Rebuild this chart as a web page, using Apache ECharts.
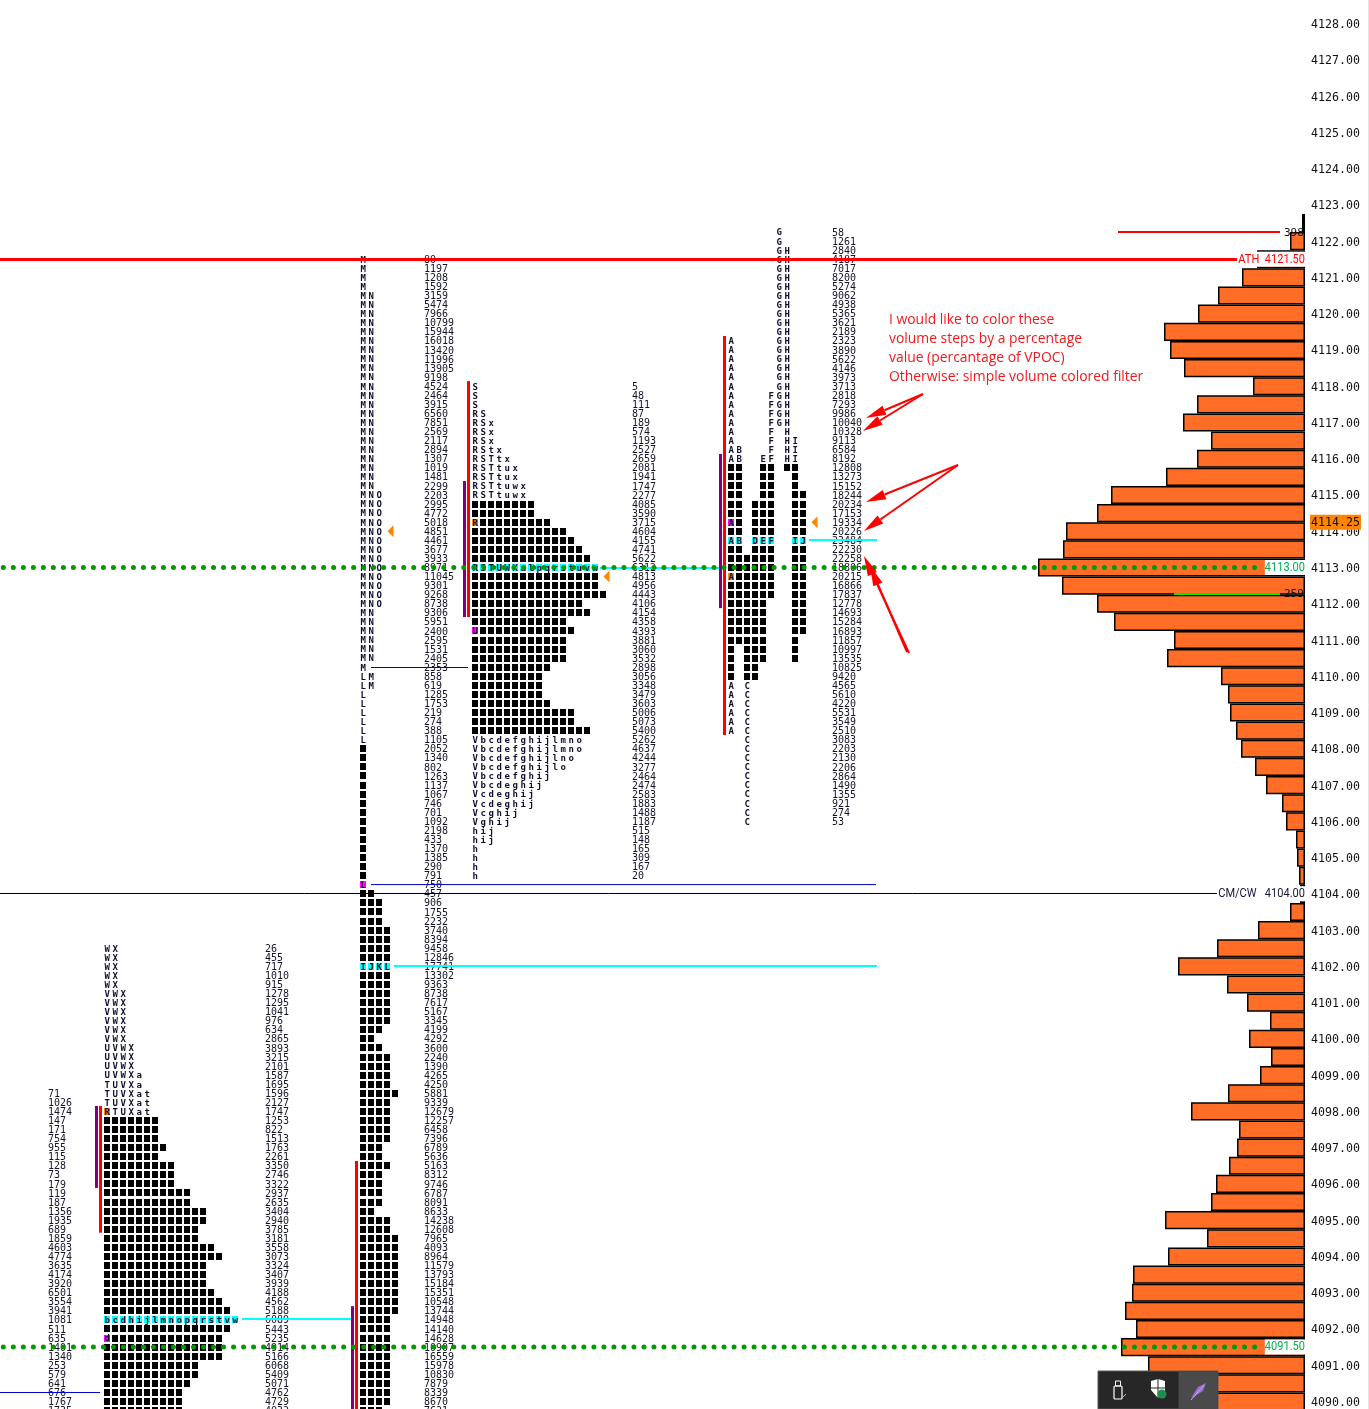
<!DOCTYPE html>
<html>
<head>
<meta charset="utf-8">
<style>html,body{margin:0;padding:0;background:#fff;overflow:hidden}#c{width:1369px;height:1409px}</style>
<script src="https://cdn.jsdelivr.net/npm/echarts@6/dist/echarts.min.js"></script>
</head>
<body>
<div id="c"></div>
<script>
// ---------- price axis ----------
const yMin = 4089, yMax = 4129, tickStep = 1;

// ---------- volume profile on the right (price level, relative bar length) ----------
const barPrices = [4122.5,4122,4121.5,4121,4120.5,4120,4119.5,4119,4118.5,4118,4117.5,4117,4116.5,4116,4115.5,4115,4114.5,4114,4113.5,4113,4112.5,4112,4111.5,4111,4110.5,4110,4109.5,4109,4108.5,4108,4107.5,4107,4106.5,4106,4105.5,4105,4104.5,4104,4103.5,4103,4102.5,4102,4101.5,4101,4100.5,4100,4099.5,4099,4098.5,4098,4097.5,4097,4096.5,4096,4095.5,4095,4094.5,4094,4093.5,4093,4092.5,4092,4091.5,4091,4090.5,4090];
const barValues = [3,15,48,63,87,107,141,135,121,52,108,122,94,108,139,194,208,239,242,267,243,208,191,131,138,84,77,75,69,64,50,39,23,19,9,8,6,5,15,47,88,127,78,58,35,56,34,45,77,114,66,68,76,89,94,140,98,137,172,173,180,169,184,157,140,150];

// ---------- TPO rows: a number is that many solid blocks, '#' is one block, letters are TPO letters ----------
const startPrice1 = 4121.5;
const tpoRows1 = ['M','M','M','M','MN','MN','MN','MN','MN','MN','MN','MN','MN','MN','MN','MN','MN','MN','MN','MN','MN','MN','MN','MN','MN','MN',
 'MNO','MNO','MNO','MNO','MNO','MNO','MNO','MNO','MNO','MNO','MNO','MNO','MNO','MN','MN','MN','MN','MN','MN','M','LM','LM','L','L','L','L','L','L',
 1,1,1,1,1,1,1,1,1,1,1,1,1,1,1,'L',2,3,3,3,4,4,4,4,'IJKL',4,4,4,4,4,4,3,2,3,4,4,4,4,5,4,4,4,4,4,3,3,4,3,3,3,3,2,4,4,5,5,5,5,5,5,5,5,5,4,4,4,4,4,4,4,4,4,4,3];
const volumes1 = [80,1197,1208,1592,3159,5474,7966,10799,15944,16018,13420,11996,13905,9198,4524,2464,3915,6560,7851,2569,2117,2894,1307,1019,1481,2299,2203,2995,4772,5018,4851,4461,3677,3933,8971,11045,9301,9268,8738,9306,5951,2400,2595,1531,2405,2353,858,619,1285,1753,219,274,388,1105,2052,1340,802,1263,1137,1067,746,701,1092,2198,433,1370,1385,290,791,750,457,906,1755,2232,3740,8394,9458,12846,17741,13302,9363,8738,7617,5167,3345,4199,4292,3600,2240,1390,4265,4250,5881,9339,12679,12257,6458,7396,6789,5636,5163,8312,9746,6787,8091,8633,14238,12608,7965,4093,8964,11579,13793,15184,15351,10548,13744,14948,14140,14628,10907,16559,15978,10830,7879,8339,8670,7621];

const startPrice2 = 4118;
const tpoRows2 = ['S','S','S','RS','RSx','RSx','RSx','RStx','RSTtx','RSTtux','RSTtux','RSTtuwx','RSTtuwx',8,8,'R#########',12,13,14,15,'RSTUWXalpqrstuvw',16,16,17,14,15,12,'U############',12,12,12,10,9,9,9,10,13,13,15,
 'Vbcdefghijlmno','Vbcdefghijlmno','Vbcdefghijlno','Vbcdefghijlo','Vbcdefghij','Vbcdeghij','Vcdeghij','Vcdeghij','Vcghij','Vghij','hij','hij','h','h','h','h'];
const volumes2 = [5,48,111,87,189,574,1193,2527,2659,2081,1941,1747,2277,4085,3590,3715,4604,4155,4741,5622,6312,4813,4956,4443,4106,4154,4358,4393,3881,3060,3532,2898,3056,3348,3479,3603,5006,5073,5400,5262,4637,4244,3277,2464,2474,2583,1883,1488,1187,515,148,165,309,167,20];

const startPrice3 = 4122.25;
const tpoRows3 = ['      G','      G','      GH','      GH','      GH','      GH','      GH','      GH','      GH','      GH','      GH','      GH',
 'A     GH','A     GH','A     GH','A     GH','A     GH','A     GH','A    FGH','A    FGH','A    FGH','A    FGH','A    F H','A    F HI','AB   F HI','AB  EF HI',
 '##  ## ##','##  ##  #','##  ##  #','##  ##  ##','## ###  ##','## ###  ##','A# ###  ##','## ###  ##','AB DEF  IJ','## ###  ##','######  ##','######  ##','A#####  ##','######  ##','######  ##','#####   ##','#####   ##','#####   ##','#####   ##','#####   #','# ###   #','# ###   #','# ##','# ##',
 'A C','A C','A C','A C','A C','A C','  C','  C','  C','  C','  C','  C','  C','  C','  C','  C'];
const volumes3 = [58,1261,2840,4187,7017,8200,5274,9062,4938,5365,3621,2189,2323,3890,5622,4146,3973,3713,2818,7293,9986,10040,10328,9113,6584,8192,12808,13273,15152,18244,20234,17153,19334,20226,23484,22230,22258,18806,20215,16866,17837,12778,14693,15284,16893,11857,10997,13535,10825,9420,4565,5610,4220,5531,3549,2510,3083,2203,2130,2206,2864,1490,1355,921,274,53];

const startPrice4 = 4102.5;
const tpoRows4 = ['WX','WX','WX','WX','WX','VWX','VWX','VWX','VWX','VWX','VWX','UVWX','UVWX','UVWX','UVWXa','TUVXa','TUVXat','TUVXat','RTUXat',7,7,7,8,7,9,9,9,11,11,13,13,12,12,14,15,13,13,13,14,15,16,'bcdhijlmnopqrstvw',16,'d##############',15,15,12,12,11,10,10,10];
const volumes4 = [26,455,717,1010,915,1278,1295,1041,976,634,2865,3893,3215,2101,1587,1695,1596,2127,1747,1253,822,1513,1763,2261,3350,2746,3322,2937,2635,3404,2940,3785,3181,3558,3073,3324,3407,3939,4188,4562,5188,6089,5443,5235,4914,5166,6068,5409,5071,4762,4729,4032];

const startPrice0 = 4098.5;
const volumes0 = [71,1026,1474,147,171,754,955,115,128,73,179,119,187,1356,1935,689,1859,4603,4774,3635,4174,3920,6501,3554,3941,1081,511,635,1401,1340,253,579,641,676,1767,1735];

// ---------- layout of the columns, in x-axis units ----------
const xFull = 1305, rowStep = 0.25, colStep = 8;
const profiles = [
 {rows:tpoRows1, start:startPrice1, x:363.3, volX:424, vols:volumes1, poc:78, open:[69,0], close:null},
 {rows:tpoRows2, start:startPrice2, x:475.3, volX:632, vols:volumes2, poc:20, open:[27,0], close:[15,0]},
 {rows:tpoRows3, start:startPrice3, x:731.2, volX:832, vols:volumes3, poc:34, open:[32,0], close:[38,0]},
 {rows:tpoRows4, start:startPrice4, x:107.3, volX:265, vols:volumes4, poc:41, open:[43,0], close:[18,0]}
];

const C = {cyan:'#00FFFF', magenta:'#FF00FF', amber:'#FF8400', ink:'#10102E', vol:'#14142a', red:'#FF0000', purple:'#800080', blue:'#0000CC', dot:'#009A00', lime:'#00EE00', barFill:'#FF6D26'};

// [fromX, toX, price, colour, width]  (prices carry a tiny offset so each line sits on the pixel grid)
const refLines = [
 [0,1237,4121.495,C.red,3],
 [0,1217,4104.009,'#000000',1],
 [1118,1280,4122.253,C.red,2],
 [1174,1280,4112.27,C.lime,2],
 [371,468,4110.242,C.blue,1],
 [371,876,4104.255,C.blue,1],
 [0,100,4090.247,C.blue,1],
 [809,877,4113.758,C.cyan,2],
 [394,877,4102.012,C.cyan,2],
 [242,352,4092.275,C.cyan,2],
 [600,722,4112.986,C.cyan,2]
];
// [x, topPrice, bottomPrice, colour]
const valueAreas = [
 [100.5,4098.15,4094.655,C.red],[96.5,4098.15,4095.89,C.purple],
 [356.5,4096.63,4089,C.red],[352.5,4092.63,4089,C.purple],
 [468.5,4118.14,4111.635,C.red],[464.5,4115.385,4111.635,C.purple],
 [724.5,4119.385,4108.38,C.red],[720.5,4116.13,4111.88,C.purple]
];
const pocPrices = [[4113,1263.3],[4091.5,1263.3]];
const trianglePts = [[390.5,4114],[606.5,4112.75],[814.5,4114.25]];

// [rightX, price, text, colour, background]
const tags = [
 [1305,4121.5,'ATH  4121.50',C.red,'#fff'],
 [1305,4104,'CM/CW   4104.00','#16163A','#fff'],
 [1305,4113,'4113.00','#00B050','#fff'],
 [1305,4091.5,'4091.50','#00B050','#fff']
];
const notes = ['I would like to color these','volume steps by a percentage','value (percantage of VPOC)','Otherwise: simple volume colored filter'];
const arrows = [[923,394,866,418],[923,394,863,431],[958,465,866,502],[958,465,864,531],[909,653,864,556],[907,652,870,566]];

// ---------- build the data ----------
const cells = [], volumeTexts = [];
profiles.forEach(p => {
  p.rows.forEach((row, r) => {
    const price = p.start - r * rowStep;
    const s = typeof row === 'number' ? '#'.repeat(row) : row;
    [...s].forEach((ch, c) => {
      if (ch === ' ') return;
      let bg = ch === '#' ? '#000' : null;
      if (r === p.poc) bg = C.cyan;
      if (p.open && p.open[0] === r && p.open[1] === c) bg = C.magenta;
      if (p.close && p.close[0] === r && p.close[1] === c) bg = C.amber;
      cells.push([p.x + c * colStep, price, ch, bg || '']);
    });
  });
  p.vols.forEach((v, r) => volumeTexts.push([p.volX, p.start - r * rowStep, String(v)]));
});
volumes0.forEach((v, r) => volumeTexts.push([48, startPrice0 - r * rowStep, String(v)]));

const bandPrices = [];
for (let q = 4128; q >= 4089.5; q -= 0.5) bandPrices.push(q.toFixed(1));
const barSeriesData = bandPrices.map(b => { const i = barPrices.indexOf(+b); return i < 0 ? null : barValues[i]; });

const MONO = '"DejaVu Sans Mono", monospace';

function cellItem(params, api) {
  const pt = api.coord([api.value(0), api.value(1)]);
  const ch = api.value(2), bg = api.value(3);
  const kids = [];
  if (bg) kids.push({type:'rect', shape:{x:Math.round(pt[0]-3), y:Math.round(pt[1]-3.5), width:6, height:7}, style:{fill:bg}});
  if (ch !== '#') kids.push({type:'text', style:{text:ch, x:pt[0], y:pt[1]+1, align:'center', verticalAlign:'middle', font:'bold 9px '+MONO, fill:C.ink}});
  return {type:'group', children:kids};
}
function volItem(params, api) {
  const pt = api.coord([api.value(0), api.value(1)]);
  return {type:'text', style:{text:api.value(2), x:pt[0], y:pt[1]+1, align:'left', verticalAlign:'middle', font:'10px '+MONO, fill:C.vol}};
}

const series = [];
series.push({type:'bar', name:'Volume profile', xAxisIndex:1, yAxisIndex:1, data:barSeriesData, barWidth:'100%', barCategoryGap:'0%',
  itemStyle:{color:C.barFill, borderColor:'#000', borderWidth:1.5}, z:1, silent:true});
series.push({type:'custom', name:'TPO', data:cells, renderItem:cellItem, z:3, silent:true, encode:{x:0,y:1}, dimensions:['x','y',{name:'c',type:'ordinal'},{name:'b',type:'ordinal'}]});
series.push({type:'custom', name:'Volume at price', data:volumeTexts, renderItem:volItem, z:3, silent:true, encode:{x:0,y:1}, dimensions:['x','y',{name:'t',type:'ordinal'}]});
refLines.forEach(l => series.push({type:'line', data:[[l[0],l[2]],[l[1],l[2]]], showSymbol:false, silent:true, z:4, lineStyle:{color:l[3], width:l[4]}}));
valueAreas.forEach(v => series.push({type:'line', data:[[v[0],v[1]],[v[0],v[2]]], showSymbol:false, silent:true, z:4, lineStyle:{color:v[3], width:3}}));
series.push({type:'scatter', data:trianglePts, symbol:'path://M10 0 L10 20 L0 10 Z', symbolSize:[6,12], silent:true, z:5, itemStyle:{color:C.amber, opacity:1}});
series.push({type:'custom', name:'Tags', data:tags, z:6, silent:true, encode:{x:0,y:1}, dimensions:['x','y',{name:'t',type:'ordinal'},{name:'c',type:'ordinal'},{name:'b',type:'ordinal'}],
  renderItem:(params, api) => {
    const pt = api.coord([api.value(0), api.value(1)]);
    return {type:'text', x:pt[0], y:pt[1], scaleX:0.85, style:{text:api.value(2), x:0, y:0, align:'right', verticalAlign:'middle', font:'13px Roboto', fill:api.value(3), backgroundColor:api.value(4), padding:[1,0,1,0]}};
  }});
pocPrices.forEach(p => series.push({type:'line', data:[[3.3,p[0]],[p[1],p[0]]], showSymbol:false, silent:true, z:7,
  lineStyle:{color:C.dot, width:5, type:[0.01,10], cap:'round'}}));
// small value tags next to the thin lines
series.push({type:'custom', name:'Small tags', data:[[1284,4122.25,'398'],[1284,4112.28,'259']], z:6, silent:true, encode:{x:0,y:1}, dimensions:['x','y',{name:'t',type:'ordinal'}],
  renderItem:(params, api) => {
    const pt = api.coord([api.value(0), api.value(1)]);
    return {type:'text', style:{text:api.value(2), x:pt[0], y:pt[1]+1, align:'left', verticalAlign:'middle', font:'11px '+MONO, fill:'#111'}};
  }});
// current price flag
series.push({type:'custom', name:'Last', data:[[1311,4114.25,'4114.25']], z:8, silent:true, encode:{x:0,y:1}, dimensions:['x','y',{name:'t',type:'ordinal'}],
  renderItem:(params, api) => {
    const pt = api.coord([api.value(0), api.value(1)]);
    return {type:'group', children:[
      {type:'rect', shape:{x:pt[0]-1, y:pt[1]-7.5, width:51, height:15}, style:{fill:C.amber}},
      {type:'text', style:{text:api.value(2), x:pt[0], y:pt[1]+1, align:'left', verticalAlign:'middle', font:'11.6px '+MONO, fill:'#111'}}
    ]};
  }});

// ---------- annotations ----------
const graphic = [];
notes.forEach((t, i) => graphic.push({type:'text', z:20, style:{text:t, x:889, y:320 + i * 19, align:'left', verticalAlign:'middle', font:'13.9px "Open Sans"', fill:'#F01818'}}));
arrows.forEach(a => {
  const dx = a[2]-a[0], dy = a[3]-a[1], L = Math.hypot(dx,dy), ux = dx/L, uy = dy/L;
  const bx = a[2]-ux*20, by = a[3]-uy*20, nx = -uy*5, ny = ux*5;
  graphic.push({type:'line', z:20, shape:{x1:a[0],y1:a[1],x2:bx,y2:by}, style:{stroke:'#F00',lineWidth:2}});
  graphic.push({type:'polygon', z:20, shape:{points:[[a[2],a[3]],[bx+nx,by+ny],[bx-nx,by-ny]]}, style:{fill:'#F00'}});
});
// taskbar popup in the corner of the screenshot
graphic.push(
 {type:'rect', z:30, shape:{x:1098,y:1371,width:120,height:38}, style:{fill:'#272727',stroke:'#5a5a5a',lineWidth:1}},
 {type:'rect', z:30, shape:{x:1178.5,y:1371.5,width:39,height:38}, style:{fill:'#4a4a4a'}},
 {type:'rect', z:31, shape:{x:1114,y:1386,width:8,height:13,r:1}, style:{fill:'none',stroke:'#fff',lineWidth:1.2}},
 {type:'rect', z:31, shape:{x:1115.5,y:1381,width:5,height:5}, style:{fill:'none',stroke:'#fff',lineWidth:1}},
 {type:'line', z:31, shape:{x1:1122,y1:1398,x2:1126,y2:1394}, style:{stroke:'#bbb',lineWidth:1}},
 {type:'polygon', z:31, shape:{points:[[1151,1381],[1158,1379],[1165,1381],[1165,1390],[1158,1398],[1151,1390]]}, style:{fill:'#fff'}},
 {type:'line', z:32, shape:{x1:1158,y1:1379,x2:1158,y2:1398}, style:{stroke:'#272727',lineWidth:1}},
 {type:'line', z:32, shape:{x1:1151,y1:1388,x2:1165,y2:1388}, style:{stroke:'#272727',lineWidth:1}},
 {type:'circle', z:33, shape:{cx:1162,cy:1394,r:4.5}, style:{fill:'#1E8E4E'}},
 {type:'polygon', z:33, shape:{points:[[1191,1398],[1198,1387],[1206,1383],[1203,1391],[1195,1396]]}, style:{fill:'#9A6FD0'}},
 {type:'line', z:33, shape:{x1:1191,y1:1400,x2:1204,y2:1385}, style:{stroke:'#C9A8F0',lineWidth:1}},
 {type:'line', z:40, shape:{x1:1368.5,y1:0,x2:1368.5,y2:1409}, style:{stroke:'#e4e4e4',lineWidth:1}}
);

const option = {
  animation:false,
  backgroundColor:'#fff',
  grid:[
    {left:0, width:xFull, top:-12.66, height:1450.4, outerBoundsMode:'none', containLabel:false},
    {left:0, width:xFull, top:14.54, height:1414.14, outerBoundsMode:'none', containLabel:false}
  ],
  xAxis:[
    {type:'value', gridIndex:0, min:0, max:xFull, show:false},
    {type:'value', gridIndex:1, min:0, max:xFull, inverse:true, show:false}
  ],
  yAxis:[
    {type:'value', gridIndex:0, position:'right', min:yMin, max:yMax, interval:tickStep,
     axisLine:{show:false}, axisTick:{show:false}, splitLine:{show:false},
     axisLabel:{margin:6, color:'#111', fontFamily:'DejaVu Sans Mono', fontSize:11.6, verticalAlign:'top', lineHeight:3, formatter:v => v.toFixed(2), showMinLabel:true, showMaxLabel:true}},
    {type:'category', gridIndex:1, inverse:true, data:bandPrices, show:false}
  ],
  series, graphic
};
echarts.init(document.getElementById('c'), null, {renderer:'canvas'}).setOption(option);
</script>
</body>
</html>
